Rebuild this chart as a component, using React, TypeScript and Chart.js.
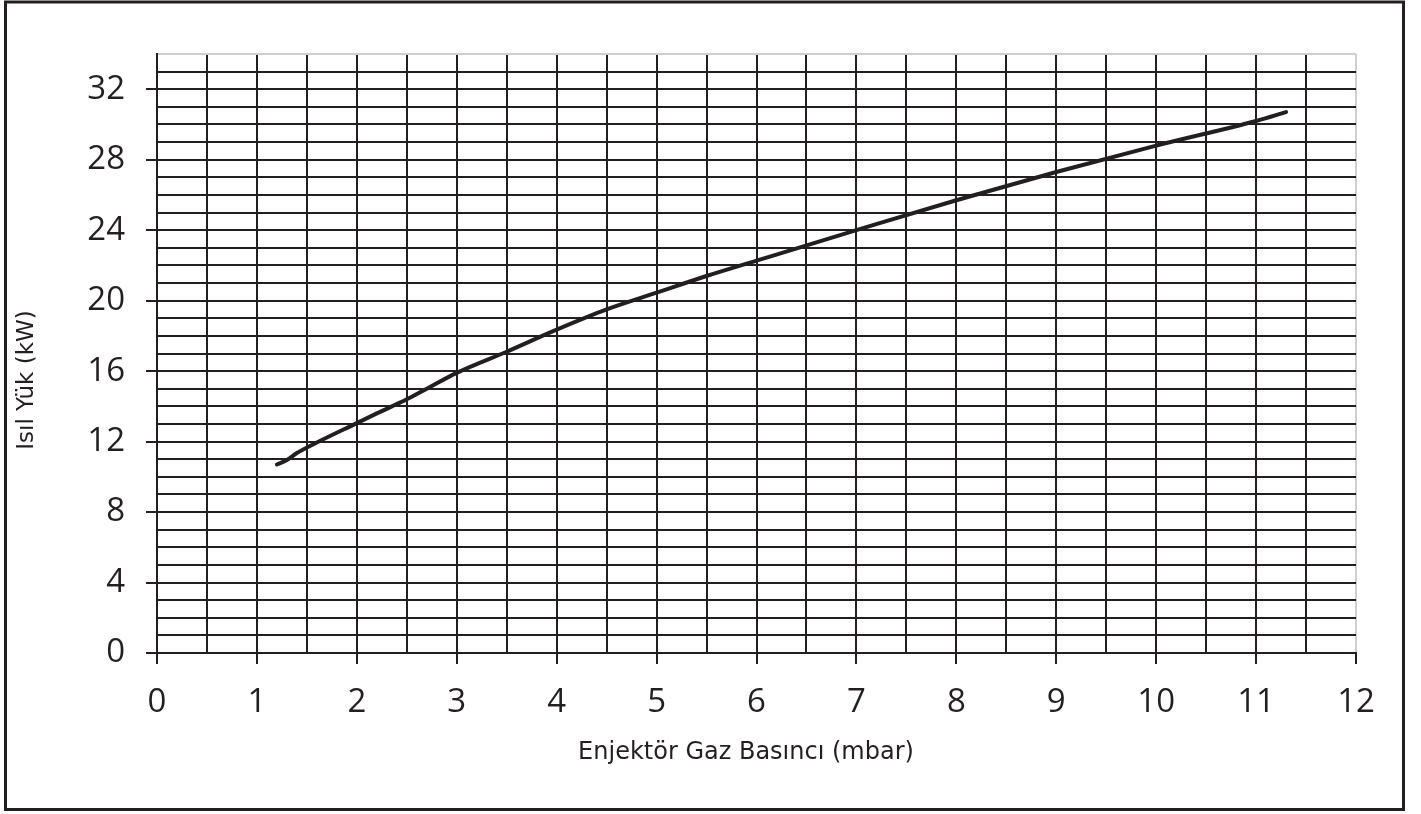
import React, { useEffect, useRef } from "react";
import { Chart, registerables } from "chart.js";

Chart.register(...registerables);

const pressure = [1.2, 1.3, 1.4, 1.6, 2.0, 2.2, 2.5, 2.7, 3.0, 3.5, 4.0, 4.5, 5.0, 5.5, 6.0, 7.0, 8.0, 9.0, 10.0, 11.0, 11.3];
const heatLoad = [10.7, 10.95, 11.35, 11.95, 13.05, 13.6, 14.4, 15.0, 15.9, 17.1, 18.35, 19.5, 20.45, 21.4, 22.27, 24.0, 25.7, 27.3, 28.8, 30.2, 30.7];
const xTickLabels = ["0", "1", "2", "3", "4", "5", "6", "7", "8", "9", "10", "11", "12"];
const yTickLabels = ["0", "4", "8", "12", "16", "20", "24", "28", "32"];
const xTitle = "Enjektör Gaz Basıncı (mbar)";
const yTitle = "Isıl Yük (kW)";

const INK = "#231f20";
const LIGHT = "#cfcfcf";
const FONT = "'Open Sans', sans-serif";
const TITLE_FONT = "'DejaVu Sans', sans-serif";

export default function App() {
  const ref = useRef<HTMLCanvasElement | null>(null);

  useEffect(() => {
    if (!ref.current) return;
    const framePlugin = {
      id: "frame",
      afterDraw(chart: any) {
        const c = chart.ctx;
        c.save();
        c.strokeStyle = INK;
        c.lineWidth = 3;
        c.strokeRect(5.5, 2, 1398, 807.5);
        c.fillStyle = INK;
        c.font = `24px ${TITLE_FONT}`;
        c.textAlign = "center";
        c.textBaseline = "middle";
        c.fillText(xTitle, 746, 753);
        c.font = `23px ${TITLE_FONT}`;
        c.translate(27, 380);
        c.rotate(-Math.PI / 2);
        c.fillText(yTitle, 0, 0);
        c.restore();
      },
    };

    const chart = new Chart(ref.current, {
      type: "line",
      data: {
        datasets: [
          {
            data: pressure.map((p, i) => ({ x: p, y: heatLoad[i] })),
            borderColor: INK,
            borderWidth: 4,
            pointRadius: 0,
            cubicInterpolationMode: "monotone",
            borderCapStyle: "round",
            fill: false,
          },
        ],
      },
      options: {
        animation: false,
        responsive: false,
        maintainAspectRatio: false,
        layout: { padding: { top: 54, right: 65, left: 0, bottom: 0 } },
        plugins: { legend: { display: false }, tooltip: { enabled: false } },
        scales: {
          x: {
            type: "linear",
            min: 0,
            max: 12,
            afterFit(scale: any) {
              scale.height = 161;
            },
            afterBuildTicks(scale: any) {
              const t = [];
              for (let i = 0; i <= 24; i++) t.push({ value: i / 2 });
              scale.ticks = t;
            },
            ticks: {
              autoSkip: false,
              maxRotation: 0,
              padding: 19,
              color: INK,
              font: { family: FONT, size: 33, weight: "500" },
              callback: (v: any) => {
                const n = Number(v);
                return Number.isInteger(n) ? xTickLabels[n] : "";
              },
            },
            grid: {
              color: (ctx: any) => (ctx.tick && ctx.tick.value === 12 ? LIGHT : INK),
              lineWidth: 2,
              tickLength: 11,
              tickWidth: 2,
              tickColor: (ctx: any) => (ctx.tick && Number.isInteger(ctx.tick.value) ? INK : "rgba(0,0,0,0)"),
            },
            border: { display: true, color: INK, width: 2 },
          },
          y: {
            type: "linear",
            min: 0,
            max: 34,
            afterFit(scale: any) {
              scale.width = 157;
            },
            afterBuildTicks(scale: any) {
              const t = [];
              for (let i = 0; i <= 34; i++) t.push({ value: i });
              scale.ticks = t;
            },
            ticks: {
              autoSkip: false,
              padding: 21,
              color: INK,
              font: { family: FONT, size: 33, weight: "500" },
              callback: (v: any) => {
                const n = Number(v);
                return n % 4 === 0 && n <= 32 ? yTickLabels[n / 4] : "";
              },
            },
            grid: {
              color: (ctx: any) => (ctx.tick && ctx.tick.value === 34 ? LIGHT : INK),
              lineWidth: 2,
              tickLength: 11,
              tickWidth: 2,
              tickColor: (ctx: any) =>
                ctx.tick && ctx.tick.value % 4 === 0 && ctx.tick.value <= 32 ? INK : "rgba(0,0,0,0)",
            },
            border: { display: true, color: INK, width: 2 },
          },
        },
      },
      plugins: [framePlugin],
    });
    return () => chart.destroy();
  }, []);

  return (
    <div style={{ position: "fixed", left: 0, top: 0, width: 1421, height: 814, background: "#fff" }}>
      <canvas ref={ref} width={1421} height={814} style={{ display: "block", width: 1421, height: 814 }} />
    </div>
  );
}
